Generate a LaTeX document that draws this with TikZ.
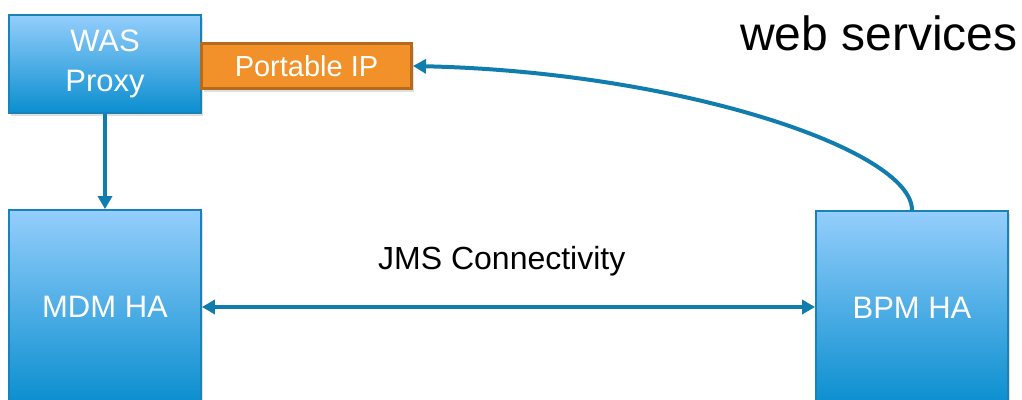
\documentclass[tikz,border=0pt]{standalone}
\usepackage{fontspec}
\setmainfont{Liberation Sans}
\usepackage{tikz}
\usetikzlibrary{positioning, arrows.meta, shadows}

\definecolor{boxtop}{HTML}{94CEFC}
\definecolor{boxbot}{HTML}{0A8ECF}
\definecolor{boxline}{HTML}{1A82B7}
\definecolor{linkblue}{HTML}{117DAE}
\definecolor{ipfill}{HTML}{F29129}
\definecolor{ipline}{HTML}{B56A1E}

\tikzset{
    server/.style={rectangle, draw=boxline, line width=1.8pt, top color=boxtop, bottom color=boxbot,
        text=white, align=center, font=\fontsize{31}{40}\selectfont,
        drop shadow={shadow xshift=2pt, shadow yshift=-3pt, opacity=0.25}},
    ipbox/.style={rectangle, draw=ipline, line width=3pt, fill=ipfill, text=white,
        font=\fontsize{29}{34}\selectfont, minimum width=210pt, minimum height=45pt,
        drop shadow={shadow xshift=2pt, shadow yshift=-3pt, opacity=0.25}},
    link/.style={draw=linkblue, line width=4pt, -{Triangle[length=13pt,width=14pt]}},
    biglabel/.style={anchor=base west, inner sep=0pt, text=black}
}

\begin{document}
\begin{tikzpicture}[x=1pt, y=-1pt]
        \useasboundingbox (0,0) rectangle (1022,399);
        \clip (0,0) rectangle (1022,399);

        % boxes
        \node[server, minimum width=192pt, minimum height=98pt] (was) at (105,64) {WAS\\Proxy};
        \node[ipbox] (ip) at (306.5,66) {Portable IP};
        \node[server, minimum width=192pt, minimum height=194pt] (mdm) at (105,307) {MDM HA};
        \node[server, minimum width=192pt, minimum height=194pt] (bpm) at (912,308) {BPM HA};

        % labels
        \node[biglabel, font=\fontsize{48}{56}\selectfont] (ws) at (740,50) {web services};
        \node[biglabel, font=\fontsize{32}{36}\selectfont] (jms) at (378,269) {JMS Connectivity};

        % links
        \draw[link] (was.south) -- (mdm.north);
        \draw[link, {Triangle[length=13pt,width=14pt]}-{Triangle[length=13pt,width=14pt]}] (mdm.east |- 0,307) -- (bpm.west |- 0,307);
        \draw[link] (bpm.north) .. controls (912,150) and (680,72) .. (ip.east);
\end{tikzpicture}
\end{document}
